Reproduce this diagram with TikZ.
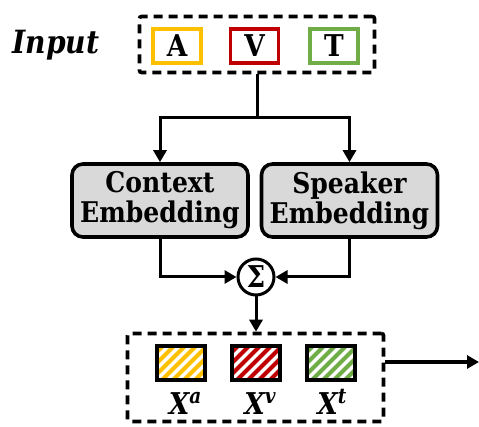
\documentclass[tikz,border=0pt]{standalone}
\usepackage{fontspec}
\newfontfamily\dvs{DejaVu Serif}[FakeStretch=0.88]
\usetikzlibrary{arrows.meta,calc}
\definecolor{ayellow}{HTML}{FFC000}
\definecolor{vred}{HTML}{C00000}
\definecolor{tgreen}{HTML}{70AD47}
\definecolor{embfill}{HTML}{D9D9D9}
\newcommand{\feat}[1]{X\raisebox{11pt}{\fontsize{21}{21}\selectfont #1}}
\begin{document}
\begin{tikzpicture}[x=1pt,y=-1pt,
  grp/.style={draw, dash pattern=on 9pt off 6pt, line width=3.6pt, rounded corners=2pt, inner sep=0pt},
  modbox/.style={draw=#1, line width=3.6pt, minimum width=48pt, minimum height=34pt, inner sep=0pt,
    font=\dvs\fontsize{30}{30}\selectfont\bfseries},
  embbox/.style={draw, fill=embfill, line width=3.6pt, rounded corners=11pt, minimum width=176pt,
    minimum height=73pt, inner sep=0pt, align=center, font=\dvs\fontsize{28.5}{30}\selectfont\bfseries},
  featbox/.style={draw, line width=3.6pt, minimum width=48pt, minimum height=34pt, inner sep=0pt,
    path picture={\foreach \k in {-72,-61,...,72}
      \draw[#1, line width=4pt] ([xshift=\k pt]path picture bounding box.south west) -- ++(70pt,70pt);}},
  sumnode/.style={draw, circle, line width=3pt, minimum size=36pt, inner sep=0pt,
    font=\dvs\fontsize{30}{30}\selectfont\bfseries},
  lbl/.style={inner sep=0pt, font=\dvs\fontsize{30}{30}\selectfont\bfseries\itshape},
  link/.style={line width=3pt},
  arr/.style={link, -{Triangle[length=12pt,width=13pt]}}
]
\useasboundingbox (0,0) rectangle (479,427);

% input modalities
\node[font=\dvs\fontsize{32}{32}\selectfont\bfseries\itshape, inner sep=0pt, anchor=base] (inlabel) at (56,54) {Input};
\node[grp, minimum width=235pt, minimum height=56pt] (inbox) at (257,44.5) {};
\node[modbox=ayellow] (ma) at (177,46) {A};
\node[modbox=vred] (mv) at (254.5,46) {V};
\node[modbox=tgreen] (mt) at (334,46) {T};

% embeddings
\node[embbox] (ctx) at (160,200.5) {Context\\Embedding};
\node[embbox] (spk) at (349.5,200.5) {Speaker\\Embedding};

% summation
\node[sumnode] (sum) at (256,277) {Σ};

% fused features
\node[grp, minimum width=256pt, minimum height=88pt] (outbox) at (255.5,377.5) {};
\node[featbox=ayellow] (fa) at (181,363) {};
\node[featbox=vred] (fv) at (256,363) {};
\node[featbox=tgreen] (ft) at (331,363) {};
\node[lbl, anchor=base] (la) at (185,414) {\feat{a}};
\node[lbl, anchor=base] (lv) at (260,414) {\feat{v}};
\node[lbl, anchor=base] (lt) at (332,414) {\feat{t}};

% connectors
\coordinate (split) at ($(inbox.south)+(0,43)$);
\draw[link] (inbox.south) -- (split);
\draw[arr] (split) -| (ctx.north);
\draw[arr] (split) -| (spk.north);
\draw[arr] (ctx.south) |- (sum.west);
\draw[arr] (spk.south) |- (sum.east);
\draw[arr] (sum.south) -- (sum.south |- outbox.north);
\coordinate (outend) at (479,362);
\draw[arr] (outbox.east |- outend) -- (outend);
\end{tikzpicture}
\end{document}
